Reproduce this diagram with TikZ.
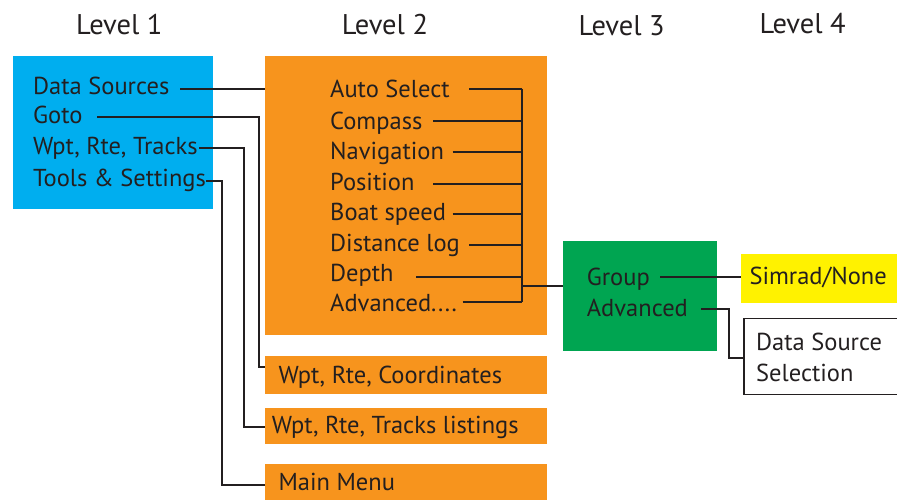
\documentclass[tikz,border=0pt]{standalone}
\usepackage{fontspec}
\setmainfont{PT Sans}
\usetikzlibrary{calc}
\definecolor{cblue}{HTML}{00AEEF}
\definecolor{corange}{HTML}{F7941D}
\definecolor{cgreen}{HTML}{00A551}
\definecolor{cyellow}{HTML}{FFF200}
\definecolor{ctext}{HTML}{231F20}
\tikzset{
  box/.style={inner sep=0pt, outer sep=0pt, anchor=north west},
  txt/.style={anchor=base west, inner sep=0pt, text=ctext, font=\fontsize{24.5}{30}\selectfont},
  hdr/.style={anchor=base west, inner sep=0pt, text=ctext, font=\fontsize{28.5}{32}\selectfont},
  wire/.style={draw=ctext, line width=2pt},
}
\begin{document}
\begin{tikzpicture}[x=1pt,y=-1pt]
\useasboundingbox (0,0) rectangle (897,500);
% headers
\node[hdr] (h1) at (76,35) {Level 1};
\node[hdr] (h2) at (341.7,35) {Level 2};
\node[hdr] (h3) at (578.3,35.7) {Level 3};
\node[hdr] (h4) at (759.3,33.3) {Level 4};
% boxes
\node[box, fill=cblue, minimum width=200pt, minimum height=153.3pt] (L1) at (12.5,55.7) {};
\node[box, fill=corange, minimum width=281.7pt, minimum height=278.7pt] (L2) at (265,56) {};
\node[box, fill=corange, minimum width=281.7pt, minimum height=38.3pt] (B1) at (265,356) {};
\node[box, fill=corange, minimum width=281.7pt, minimum height=36pt] (B2) at (265,408.3) {};
\node[box, fill=corange, minimum width=281.7pt, minimum height=40pt] (B3) at (265,464.3) {};
\node[box, fill=cgreen, minimum width=154pt, minimum height=109.7pt] (L3) at (562.7,241) {};
\node[box, fill=cyellow, minimum width=160pt, minimum height=49.3pt] (Y) at (741,254) {};
\node[box, draw=ctext, line width=1.6pt, minimum width=160pt, minimum height=76pt] (W) at (744,318.3) {};
% level 1 texts
\node[txt] (ds) at (33,94.3) {Data Sources};
\node[txt] (go) at (33,124) {Goto};
\node[txt] (wr) at (33,155) {Wpt, Rte, Tracks};
\node[txt] (ts) at (33,186) {Tools \& Settings};
% level 2 texts
\node[txt] (a1) at (330,97.5) {Auto Select};
\node[txt] (a2) at (330,129.3) {Compass};
\node[txt] (a3) at (330,160) {Navigation};
\node[txt] (a4) at (330,190) {Position};
\node[txt] (a5) at (330,220.7) {Boat speed};
\node[txt] (a6) at (330,251.7) {Distance log};
\node[txt] (a7) at (330,281.7) {Depth};
\node[txt] (a8) at (330,311.7) {Advanced....};
% bottom boxes text
\node[txt] (t1) at (278.3,383.3) {Wpt, Rte, Coordinates};
\node[txt] (t2) at (271.7,433.3) {Wpt, Rte, Tracks listings};
\node[txt] (t3) at (278.3,490.7) {Main Menu};
% level 3
\node[txt] (g1) at (586.7,285) {Group};
\node[txt] (g2) at (586.7,316.7) {Advanced};
% level 4
\node[txt] (s1) at (749.3,284.3) {Simrad/None};
\node[txt] (d1) at (756,350.7) {Data Source};
\node[txt] (d2) at (756,381.7) {Selection};
% wire coordinates
\coordinate (cds) at (180,89);
\coordinate (cgo) at (97.3,116.7);
\coordinate (cwr) at (199.3,148.3);
\coordinate (cts) at (206,180.7);
\coordinate (xgo) at (259,0);
\coordinate (xwr) at (244.3,0);
\coordinate (xts) at (222,0);
\coordinate (yb1) at (0,367.3);
\coordinate (yb2) at (0,426.7);
\coordinate (yb3) at (0,485);
\draw[wire] (cds) -- (cds -| L2.west);
\draw[wire] (cgo) -- (cgo -| xgo) -- (xgo |- yb1) -- (yb1 -| B1.west);
\draw[wire] (cwr) -- (cwr -| xwr) -- (xwr |- yb2) -- (yb2 -| B2.west);
\draw[wire] (cts) -- (cts -| xts) -- (xts |- yb3) -- (yb3 -| B3.west);
% level 2 bus
\coordinate (bus) at (522.3,0);
\coordinate (e1) at (469.3,88.7);
\coordinate (e2) at (433.3,120.7);
\coordinate (e3) at (452.7,152.3);
\coordinate (e4) at (433,184);
\coordinate (e5) at (452.7,214.3);
\coordinate (e6) at (469.3,245);
\coordinate (e7) at (416,277.3);
\coordinate (e8) at (462.7,302.3);
\foreach \i in {1,...,8} {\draw[wire] (e\i) -- (e\i -| bus);}
\draw[wire] (e1 -| bus) -- (e8 -| bus);
\coordinate (out) at (522.3,286);
\draw[wire] (out) -- (out -| L3.west);
% level 3 wires
\coordinate (cg1) at (660,276.7);
\coordinate (cg2) at (701,309.3);
\coordinate (xg2) at (729.3,0);
\coordinate (yw) at (0,358.3);
\draw[wire] (cg1) -- (cg1 -| Y.west);
\draw[wire] (cg2) -- (cg2 -| xg2) -- (xg2 |- yw) -- (yw -| W.west);
\end{tikzpicture}
\end{document}
